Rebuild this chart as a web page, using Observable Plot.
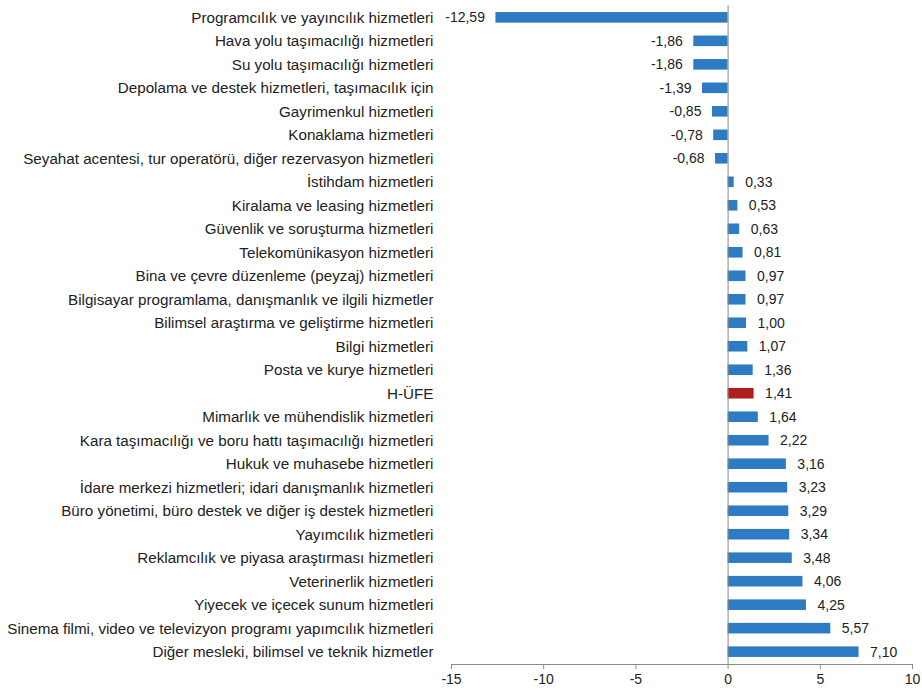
<!DOCTYPE html>
<html>
<head>
<meta charset="utf-8">
<script src="https://cdn.jsdelivr.net/npm/d3@7"></script>
<script src="https://cdn.jsdelivr.net/npm/@observablehq/plot@0.6"></script>
<style>
  html, body { margin: 0; padding: 0; background: #fff; }
  #chart { width: 922px; height: 697px; }
</style>
</head>
<body>
<div id="chart"></div>
<script>
const categories = [
  "Programcılık ve yayıncılık hizmetleri",
  "Hava yolu taşımacılığı hizmetleri",
  "Su yolu taşımacılığı hizmetleri",
  "Depolama ve destek hizmetleri, taşımacılık için",
  "Gayrimenkul hizmetleri",
  "Konaklama hizmetleri",
  "Seyahat acentesi, tur operatörü, diğer rezervasyon hizmetleri",
  "İstihdam hizmetleri",
  "Kiralama ve leasing hizmetleri",
  "Güvenlik ve soruşturma hizmetleri",
  "Telekomünikasyon hizmetleri",
  "Bina ve çevre düzenleme (peyzaj) hizmetleri",
  "Bilgisayar programlama, danışmanlık ve ilgili hizmetler",
  "Bilimsel araştırma ve geliştirme hizmetleri",
  "Bilgi hizmetleri",
  "Posta ve kurye hizmetleri",
  "H-ÜFE",
  "Mimarlık ve mühendislik hizmetleri",
  "Kara taşımacılığı ve boru hattı taşımacılığı hizmetleri",
  "Hukuk ve muhasebe hizmetleri",
  "İdare merkezi hizmetleri; idari danışmanlık hizmetleri",
  "Büro yönetimi, büro destek ve diğer iş destek hizmetleri",
  "Yayımcılık hizmetleri",
  "Reklamcılık ve piyasa araştırması hizmetleri",
  "Veterinerlik hizmetleri",
  "Yiyecek ve içecek sunum hizmetleri",
  "Sinema filmi, video ve televizyon programı yapımcılık hizmetleri",
  "Diğer mesleki, bilimsel ve teknik hizmetler"
];
const values = [
  -12.59, -1.86, -1.86, -1.39, -0.85, -0.78, -0.68,
  0.33, 0.53, 0.63, 0.81, 0.97, 0.97, 1.00, 1.07, 1.36,
  1.41, 1.64, 2.22, 3.16, 3.23, 3.29, 3.34, 3.48, 4.06, 4.25, 5.57, 7.10
];
const highlight = "H-ÜFE";
const xTicks = [-15, -10, -5, 0, 5, 10];

const data = categories.map((c, i) => ({name: c, value: values[i]}));
const fmt = v => d3.format(".2f")(v).replace(".", ",").replace("−", "-");
const blue = "#2d7cc3", red = "#b01e1e", textColor = "#222";

const chart = Plot.plot({
  width: 922,
  height: 697,
  marginLeft: 451,
  marginRight: 10,
  marginTop: 5,
  marginBottom: 33,
  style: {fontFamily: "Liberation Sans, Arial, sans-serif", fontSize: "14px", color: textColor, background: "#fff"},
  x: {domain: [-15, 10], ticks: xTicks},
  y: {domain: categories, paddingInner: 0.55, paddingOuter: 0.3, round: false},
  marks: [
    Plot.barX(data, {
      y: "name", x: "value",
      fill: d => d.name === highlight ? red : blue
    }),
    Plot.ruleX([0], {stroke: "#8a8a8a", strokeWidth: 1}),
    Plot.frame({anchor: "bottom", stroke: "#8a8a8a"}),
    Plot.text(data.filter(d => d.value < 0), {
      y: "name", x: "value", text: d => fmt(d.value),
      textAnchor: "end", dx: -11, fill: textColor, fontSize: 14
    }),
    Plot.text(data.filter(d => d.value >= 0), {
      y: "name", x: "value", text: d => fmt(d.value),
      textAnchor: "start", dx: 11, fill: textColor, fontSize: 14
    }),
    Plot.axisY({tickSize: 0, tickPadding: 18, label: null, fontSize: 15.2, fill: textColor}),
    Plot.axisX({ticks: xTicks, tickSize: 5, tickPadding: 5, label: null, fontSize: 14, fill: textColor, stroke: "#8a8a8a", tickFormat: d => String(d)})
  ]
});
document.getElementById("chart").appendChild(chart);
</script>
</body>
</html>
